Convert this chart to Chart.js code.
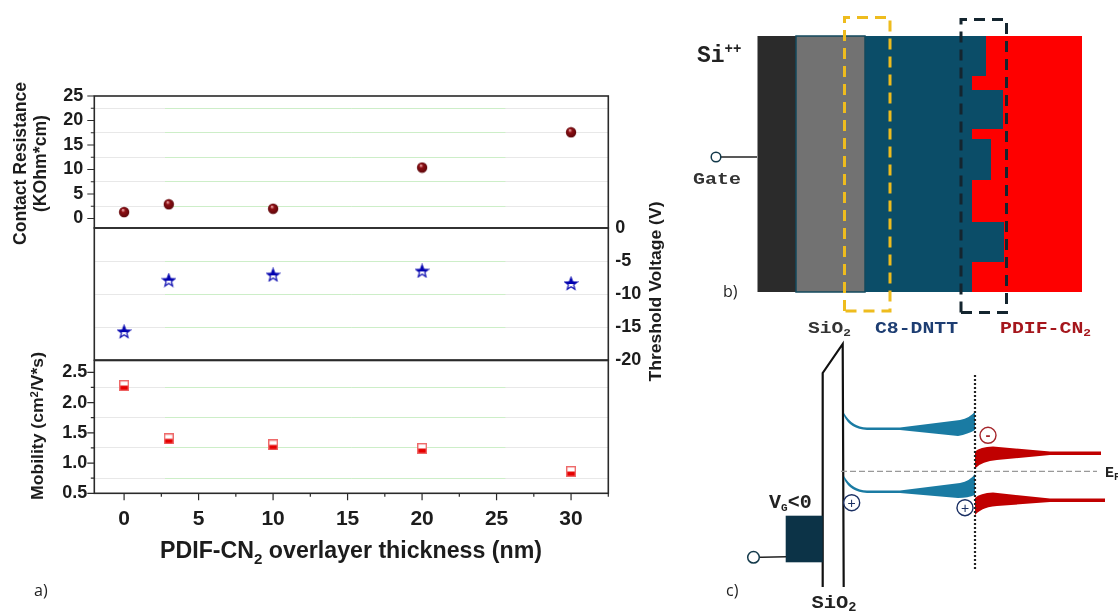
<!DOCTYPE html>
<html>
<head>
<meta charset="utf-8">
<script src="https://cdn.jsdelivr.net/npm/chart.js@4"></script>
<style>
    body { margin: 0; background: #fff; width: 1118px; height: 611px; overflow: hidden; position: relative; }
    canvas { position: absolute; left: 0; }
    svg { position: absolute; left: 0; top: 0; }
    .axis { font: bold 18px "Liberation Sans"; fill: #1c1c1c; }
    .mono { font-family: "Liberation Mono"; font-weight: bold; }
    .panel { font: 16px "Open Sans"; fill: #222; }
</style>
</head>
<body>
<canvas id="top-panel" width="660" height="160" style="top:80px"></canvas>
<canvas id="mid-panel" width="660" height="180" style="top:205px"></canvas>
<canvas id="bottom-panel" width="660" height="266" style="top:345px"></canvas>

<svg width="1118" height="611" viewBox="0 0 1118 611">
    <!-- axis titles: the subscript and the offset centres are easier here than in scale titles -->
    <text class="axis" transform="translate(25.5,245) rotate(-90)" textLength="163" lengthAdjust="spacingAndGlyphs">Contact Resistance</text>
    <text class="axis" transform="translate(46,212) rotate(-90)" textLength="97" lengthAdjust="spacingAndGlyphs">(KOhm*cm)</text>
    <text class="axis" transform="translate(43,500) rotate(-90)" textLength="148" lengthAdjust="spacingAndGlyphs" style="font-size:17px">Mobility (cm<tspan dy="-5" font-size="11">2</tspan><tspan dy="5">/V*s)</tspan></text>
    <text class="axis" transform="translate(661,381.5) rotate(-90)" textLength="180" lengthAdjust="spacingAndGlyphs" style="font-size:17px">Threshold Voltage (V)</text>
    <text class="axis" x="160" y="558" textLength="382" lengthAdjust="spacingAndGlyphs" style="font-size:23px">PDIF-CN<tspan dy="6" font-size="15">2</tspan><tspan dy="-6"> overlayer thickness (nm)</tspan></text>
    <text class="panel" x="34" y="596">a)</text>
    <text class="panel" x="723" y="297">b)</text>
    <text class="panel" x="726" y="596">c)</text>

    <!-- b) device stack -->
    <rect x="757.5" y="36" width="38.5" height="256" fill="#2b2b2b"/>
    <rect x="865" y="36" width="217" height="256" fill="#0b4d68"/>
    <path d="M986 36H1082V292H972V262H1004V222H972V180H991V139H972V129H1003V90H972V76H986Z" fill="#fe0000"/>
    <rect x="796" y="36" width="69" height="256" fill="#727272" stroke="#134a5e" stroke-width="1.5"/>
    <path d="M844.5 311V17.5H890V311H844.5" fill="none" stroke="#eebc1e" stroke-width="3" stroke-dasharray="11 7"/>
    <path d="M961 312.5V19.5H1006.5V312.5H961" fill="none" stroke="#14252f" stroke-width="3" stroke-dasharray="11 7"/>
    <line x1="721" y1="157" x2="757" y2="157" stroke="#222" stroke-width="1.5"/>
    <circle cx="716" cy="157" r="4.8" fill="#fff" stroke="#13394a" stroke-width="1.5"/>
    <text class="mono" x="697" y="62" font-size="23" fill="#222">Si<tspan dy="-9" font-size="14">++</tspan></text>
    <text class="mono" x="693" y="184" font-size="17" fill="#333" textLength="48" lengthAdjust="spacingAndGlyphs">Gate</text>
    <text class="mono" x="808" y="332.5" font-size="17" fill="#333" textLength="43" lengthAdjust="spacingAndGlyphs">SiO<tspan dy="3" font-size="11">2</tspan></text>
    <text class="mono" x="875" y="332.5" font-size="17" fill="#1d3d72" textLength="83" lengthAdjust="spacingAndGlyphs">C8-DNTT</text>
    <text class="mono" x="1000" y="332.5" font-size="17" fill="#a5161c" textLength="91" lengthAdjust="spacingAndGlyphs">PDIF-CN<tspan dy="3" font-size="11">2</tspan></text>

    <!-- c) band diagram -->
    <path d="M822.7 587V373L842.7 344L843.7 587" fill="none" stroke="#111" stroke-width="2.2"/>
    <line x1="841" y1="471.3" x2="1097" y2="471.3" stroke="#999" stroke-width="1.2" stroke-dasharray="6 3"/>
    <path d="M844 413Q852 427 867 427.5L900 427.5L960 420Q970 418 975 411.5V430Q968 434 958 436L900 430L867 430Q850 429 844 416Z" fill="#1a7ba3"/>
    <path d="M844 476Q852 490 867 490.5L900 490.5L960 483Q970 481 975 474V495Q968 498 958 498L900 493L867 493Q850 492 844 479Z" fill="#1a7ba3"/>
    <path d="M975 451.5Q980 447 993 446.5L1050 451.5L1101 451.5V455H1050L997 460Q982 461 975 468.5Z" fill="#c00000"/>
    <path d="M975 498Q980 493 993 492.5L1050 498.5L1105 498.5V502H1050L997 506Q982 507 975 515Z" fill="#c00000"/>
    <line x1="975" y1="375" x2="975" y2="571" stroke="#222" stroke-width="2.2" stroke-dasharray="2 2"/>
    <circle cx="988" cy="435.3" r="8" fill="#fff" stroke="#a5262b" stroke-width="1.4"/>
    <text x="988" y="440" text-anchor="middle" font-size="15" font-weight="bold" fill="#a5262b" font-family="Liberation Sans">-</text>
    <circle cx="851.7" cy="502.7" r="8" fill="#fff" stroke="#1a2f63" stroke-width="1.4"/>
    <text x="851.7" y="507.7" text-anchor="middle" font-size="14" fill="#1a2f63" font-family="Liberation Sans">+</text>
    <circle cx="965" cy="507.7" r="8" fill="#fff" stroke="#1a2f63" stroke-width="1.4"/>
    <text x="965" y="512.7" text-anchor="middle" font-size="14" fill="#1a2f63" font-family="Liberation Sans">+</text>
    <rect x="785.7" y="515.7" width="37" height="46.6" fill="#0c3347"/>
    <line x1="759" y1="557.3" x2="786" y2="556.7" stroke="#222" stroke-width="1.5"/>
    <circle cx="753.5" cy="557.3" r="5.8" fill="#fff" stroke="#13394a" stroke-width="1.5"/>
    <text class="mono" x="769" y="508" font-size="20" fill="#222">V<tspan dy="3" font-size="11">G</tspan><tspan dy="-3">&lt;0</tspan></text>
    <text class="mono" x="811.5" y="608" font-size="18" fill="#222" textLength="45" lengthAdjust="spacingAndGlyphs">SiO<tspan dy="3" font-size="12">2</tspan></text>
    <text class="mono" x="1105" y="477" font-size="15" fill="#222">E<tspan dy="3" font-size="10">F</tspan></text>
</svg>

<script>
    const thickness = [0, 3, 10, 20, 30];
    const contactResistance = [1.3, 2.9, 2.0, 10.4, 17.6];
    const thresholdVoltage = [-15.7, -7.9, -7.1, -6.5, -8.4];
    const mobility = [2.28, 1.40, 1.30, 1.24, 0.86];

    function toPoints(values) {
        return thickness.map((x, i) => ({ x: x, y: values[i] }));
    }

    function sprite(width, height, draw) {
        const c = document.createElement('canvas');
        c.width = width;
        c.height = height;
        draw(c.getContext('2d'));
        return c;
    }

    const ballMarker = sprite(12, 12, (ctx) => {
        const g = ctx.createRadialGradient(4.8, 3.8, 0.5, 6, 6, 5.5);
        g.addColorStop(0, '#e8a0a0');
        g.addColorStop(0.3, '#8e0f14');
        g.addColorStop(1, '#5a060a');
        ctx.fillStyle = g;
        ctx.beginPath();
        ctx.arc(6, 6, 5.2, 0, Math.PI * 2);
        ctx.fill();
    });

    const squareMarker = sprite(10, 11, (ctx) => {
        ctx.fillStyle = '#fff';
        ctx.fillRect(0, 0, 10, 5.5);
        ctx.fillStyle = '#e60000';
        ctx.fillRect(0, 5.5, 10, 5.5);
        ctx.strokeStyle = '#ee6a6a';
        ctx.lineWidth = 1.4;
        ctx.strokeRect(0.7, 0.7, 8.6, 9.6);
    });

    const starMarker = sprite(15, 15, (ctx) => {
        const path = new Path2D();
        for (let i = 0; i < 10; i++) {
            const r = i % 2 ? 2.8 : 6.6;
            const a = -Math.PI / 2 + i * Math.PI / 5;
            path.lineTo(7.5 + r * Math.cos(a), 8 + r * Math.sin(a));
        }
        path.closePath();
        ctx.fillStyle = '#fff';
        ctx.fill(path);
        ctx.save();
        ctx.beginPath();
        ctx.rect(0, 0, 15, 8);
        ctx.clip();
        ctx.fillStyle = '#0000b0';
        ctx.fill(path);
        ctx.restore();
        ctx.strokeStyle = '#0a0ab0';
        ctx.lineWidth = 1.2;
        ctx.stroke(path);
    });

    // Grey at both ends of each line, green in the middle stretch
    function gridColor(ctx) {
        const g = ctx.chart.ctx.createLinearGradient(94, 0, 608, 0);
        g.addColorStop(0, '#e8e8e8');
        g.addColorStop(0.138, '#e8e8e8');
        g.addColorStop(0.139, '#cdeec8');
        g.addColorStop(0.8, '#cdeec8');
        g.addColorStop(0.801, '#e8e8e8');
        g.addColorStop(1, '#e8e8e8');
        return g;
    }

    function minorGrid(step) {
        return ctx => (ctx.tick && Math.abs(ctx.tick.value / step % 2) > 0.01 ? gridColor(ctx) : 'transparent');
    }

    // Box round the plot, plus long and short tick marks on the outside
    const framePlugin = {
        id: 'frame',
        afterDraw(chart) {
            const a = chart.chartArea;
            const ctx = chart.ctx;
            ctx.save();
            ctx.strokeStyle = '#2a2a2a';
            ctx.lineWidth = 1.6;
            ctx.strokeRect(a.left, a.top, a.right - a.left, a.bottom - a.top);
            ctx.lineWidth = 1.2;
            ctx.beginPath();
            const y = chart.scales.y;
            if (y.position === 'left') {
                y.ticks.forEach((t, i) => {
                    const py = y.getPixelForTick(i);
                    ctx.moveTo(a.left, py);
                    ctx.lineTo(a.left - (t.label ? 7 : 3.5), py);
                });
            }
            const x = chart.scales.x;
            if (x.options.display) {
                x.ticks.forEach((t, i) => {
                    const px = x.getPixelForTick(i);
                    ctx.moveTo(px, a.bottom);
                    ctx.lineTo(px, a.bottom + (t.label ? 7 : 3.5));
                });
            }
            ctx.stroke();
            ctx.restore();
        },
    };

    const xScale = {
        type: 'linear',
        min: -2,
        max: 32.5,
        display: false,
        grid: { display: false },
        border: { display: false },
    };

    // Fixed axis width, and no extra room for the first and last labels
    function fitY(width) {
        return scale => {
            scale.width = width;
            scale.paddingTop = 0;
            scale.paddingBottom = 0;
        };
    }

    function makePanel(id, values, marker, padding, yScale, xOptions) {
        return new Chart(document.getElementById(id).getContext('2d'), {
            type: 'scatter',
            data: {
                datasets: [{
                    data: toPoints(values),
                    pointStyle: marker,
                    clip: false,
                }],
            },
            options: {
                responsive: false,
                animation: false,
                layout: { padding: padding },
                plugins: { legend: { display: false }, tooltip: { enabled: false } },
                scales: { x: Object.assign({}, xScale, xOptions), y: yScale },
            },
            plugins: [framePlugin],
        });
    }

    const tickFont = { family: 'Liberation Sans', weight: 'bold', size: 18 };

    makePanel('top-panel', contactResistance, ballMarker,
        { top: 16, bottom: 12, right: 51.7 },
        {
            min: -1.94,
            max: 25,
            position: 'left',
            afterFit: fitY(94.3),
            border: { display: false },
            grid: { drawTicks: false, color: minorGrid(2.5) },
            ticks: {
                stepSize: 2.5,
                includeBounds: false,
                autoSkip: false,
                padding: 11,
                color: '#1c1c1c',
                font: tickFont,
                callback: v => (v % 5 === 0 ? String(v) : ''),
            },
        });

    makePanel('mid-panel', thresholdVoltage, starMarker,
        { top: 23, bottom: 25, left: 94.3 },
        {
            min: -20,
            max: 0,
            position: 'right',
            afterFit: fitY(51.7),
            border: { display: false },
            grid: { drawTicks: false, color: ctx => (ctx.tick && ctx.tick.value !== 0 && ctx.tick.value !== -20 ? gridColor(ctx) : 'transparent') },
            ticks: {
                stepSize: 5,
                autoSkip: false,
                padding: 7,
                color: '#1c1c1c',
                font: tickFont,
            },
        });

    makePanel('bottom-panel', mobility, squareMarker,
        { top: 15.5, right: 51.7 },
        {
            min: 0.5,
            max: 2.695,
            position: 'left',
            afterFit: fitY(94.3),
            border: { display: false },
            grid: { drawTicks: false, color: minorGrid(0.25) },
            ticks: {
                stepSize: 0.25,
                includeBounds: false,
                autoSkip: false,
                padding: 7,
                color: '#1c1c1c',
                font: tickFont,
                callback: v => (v % 0.5 === 0 ? v.toFixed(1) : ''),
            },
        },
        {
            display: true,
            afterFit: scale => { scale.height = 117.7; },
            ticks: {
                stepSize: 2.5,
                includeBounds: false,
                autoSkip: false,
                maxRotation: 0,
                padding: 5,
                color: '#1c1c1c',
                font: { family: 'Liberation Sans', weight: 'bold', size: 21 },
                callback: v => (v % 5 === 0 ? String(v) : ''),
            },
        });
</script>
</body>
</html>
